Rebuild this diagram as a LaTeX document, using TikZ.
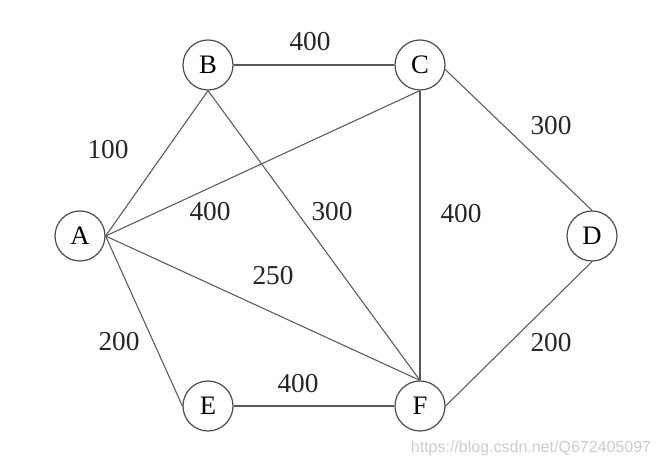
\documentclass[tikz,border=0pt]{standalone}
\usepackage{fontspec}
\setmainfont{Liberation Serif}
\newfontfamily\wmfont{Liberation Sans}
\begin{document}
\begin{tikzpicture}[x=0.75pt,y=-0.75pt,
  vtx/.style={circle,draw=black!70,line width=0.9pt,fill=white,minimum size=37.5pt,inner sep=0pt,font=\fontsize{20}{20}\selectfont},
  edge/.style={draw=black!65,line width=0.8pt},
  wt/.style={font=\fontsize{20.5}{20.5}\selectfont,text=black!85}]
\useasboundingbox (0,0) rectangle (661,466);
\node[vtx] (A) at (80,236) {A};
\node[vtx] (B) at (208,65) {B};
\node[vtx] (C) at (420,65) {C};
\node[vtx] (D) at (592,236) {D};
\node[vtx] (E) at (208,406) {E};
\node[vtx] (F) at (420,406) {F};
\draw[edge] (B.east) -- (C.west);
\draw[edge] (A.east) -- (B.south);
\draw[edge] (A.east) -- (C.south);
\draw[edge] (A.east) -- (F.north);
\draw[edge] (A.east) -- (E.west);
\draw[edge] (B.south) -- (F.north);
\draw[edge] (C.south) -- (F.north);
\draw[edge] (C.-10) -- (D.north);
\draw[edge] (D.south) -- (F.east);
\draw[edge] (E.east) -- (F.west);
\node[wt] (l1) at (310,42) {400};
\node[wt] (l2) at (108,150) {100};
\node[wt] (l3) at (210,212) {400};
\node[wt] (l4) at (332,212) {300};
\node[wt] (l5) at (461,214) {400};
\node[wt] (l6) at (551,126) {300};
\node[wt] (l7) at (273,276) {250};
\node[wt] (l8) at (119,342) {200};
\node[wt] (l9) at (298,384) {400};
\node[wt] (l10) at (551,343) {200};
\node[font=\wmfont\fontsize{12}{12}\selectfont,text=black!20] (wm) at (531,448) {https://blog.csdn.net/Q672405097};
\end{tikzpicture}
\end{document}
